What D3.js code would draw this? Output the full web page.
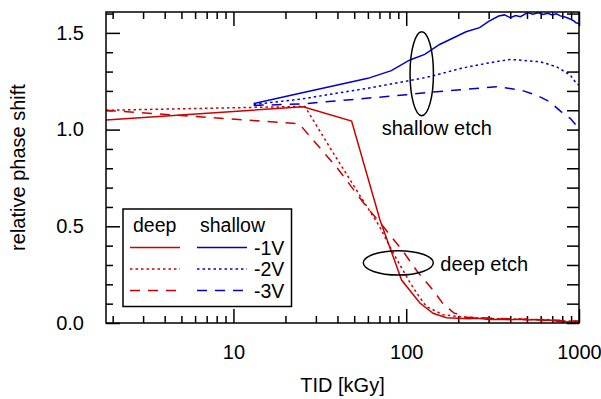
<!DOCTYPE html>
<html lang="en">
<head>
<meta charset="UTF-8">
<title>relative phase shift vs TID</title>
<style>
	body { margin: 0; background: #fff; }
	text { font-family: "Liberation Sans", Arial, sans-serif; fill: #000; }
</style>
<script src="https://cdn.jsdelivr.net/npm/d3@7"></script>
</head>
<body>
<div id="chart"></div>
<script>
	// deep etch, -1V / -2V / -3V
	var deepDose1 = [1.83, 25.3, 48.3, 70.5, 94, 120, 143, 171, 199, 230, 260, 300, 350, 400, 450, 500, 560, 620, 680, 750, 820, 900, 1000];
	var deepShift1 = [1.05, 1.118, 1.044, 0.533, 0.222, 0.103, 0.05, 0.027, 0.024, 0.022, 0.025, 0.018, 0.02, 0.017, 0.019, 0.016, 0.018, 0.013, 0.015, 0.009, 0.007, 0.005, 0.005];
	var deepDose2 = [1.83, 25.9, 36, 56, 70, 82, 92, 105, 118, 131, 164, 204, 240, 280, 330, 400, 470, 550, 640, 740, 850, 1000];
	var deepShift2 = [1.10, 1.12, 0.91, 0.636, 0.50, 0.38, 0.30, 0.21, 0.14, 0.085, 0.042, 0.033, 0.028, 0.026, 0.022, 0.02, 0.021, 0.017, 0.018, 0.014, 0.01, 0.008];
	var deepDose3 = [1.83, 24, 40, 59, 75, 96, 115, 143, 163, 190, 204, 215, 260, 320, 390, 460, 540, 630, 720, 820, 1000];
	var deepShift3 = [1.10, 1.03, 0.80, 0.60, 0.49, 0.37, 0.27, 0.17, 0.10, 0.05, 0.045, 0.03, 0.028, 0.024, 0.022, 0.02, 0.019, 0.016, 0.015, 0.012, 0.01];

	// shallow etch, -1V / -2V / -3V
	var shallowDose1 = [13.1, 24.3, 60, 82, 105, 128, 156, 222, 266, 300, 343, 370, 400, 430, 458, 505, 540, 580, 620, 660, 700, 740, 780, 820, 860, 890, 930, 960, 1000];
	var shallowShift1 = [1.135, 1.188, 1.265, 1.305, 1.36, 1.389, 1.44, 1.506, 1.527, 1.56, 1.587, 1.593, 1.579, 1.59, 1.584, 1.605, 1.597, 1.604, 1.595, 1.601, 1.593, 1.599, 1.588, 1.584, 1.577, 1.571, 1.563, 1.552, 1.548];
	var shallowDose2 = [13.1, 24.3, 59, 100, 137, 209, 292, 400, 545, 595, 740, 890, 965, 1000];
	var shallowShift2 = [1.13, 1.157, 1.213, 1.25, 1.274, 1.317, 1.343, 1.363, 1.353, 1.351, 1.325, 1.282, 1.239, 1.23];
	var shallowDose3 = [13.1, 24.3, 59, 100, 137, 222, 333, 458, 565, 675, 808, 890, 1000];
	var shallowShift3 = [1.125, 1.132, 1.162, 1.18, 1.193, 1.208, 1.222, 1.205, 1.179, 1.144, 1.084, 1.058, 1.005];

	var bias = ["-1V", "-2V", "-3V"];
	var dashes = [null, "2.5,3", "10,8"];

	var xMajor = [10, 100, 1000];
	var xMinor = [2, 3, 4, 5, 6, 7, 8, 9, 20, 30, 40, 50, 60, 70, 80, 90, 200, 300, 400, 500, 600, 700, 800, 900];
	var yMajor = [0, 0.5, 1.0, 1.5];
	var yMinor = [0.1, 0.2, 0.3, 0.4, 0.6, 0.7, 0.8, 0.9, 1.1, 1.2, 1.3, 1.4, 1.6];

	var red = "#cc0000", blue = "#0000cc";

	var w = 601, h = 399;
	var margin = {top: 12, right: 22, bottom: 76, left: 106},
		width = w - margin.left - margin.right,
		height = h - margin.top - margin.bottom;

	var svg = d3.select("#chart").append("svg")
		.attr("width", w)
		.attr("height", h);
	var g = svg.append("g")
		.attr("transform", `translate(${margin.left},${margin.top})`);

	var x = d3.scaleLog().domain([1.83, 1000]).range([0, width]);
	var y = d3.scaleLinear().domain([0, 1.608]).range([height, 0]);

	g.append("clipPath").attr("id", "plotclip")
		.append("rect").attr("width", width).attr("height", height);

	// ticks, all pointing inward
	function ticks(axis, vals, size) {
		return axis.tickValues(vals).tickSize(size).tickFormat("");
	}
	var fmt = d3.format(".1f");
	g.append("g").attr("transform", `translate(0,${height})`)
		.call(ticks(d3.axisBottom(x), xMinor, -7));
	g.append("g").attr("transform", `translate(0,${height})`)
		.call(d3.axisBottom(x).tickValues(xMajor).tickSize(-14).tickPadding(22).tickFormat(d3.format("d")));
	g.append("g").call(ticks(d3.axisTop(x), xMinor, -7));
	g.append("g").call(ticks(d3.axisTop(x), xMajor, -14));
	g.append("g").call(ticks(d3.axisLeft(y), yMinor, -7));
	g.append("g").call(d3.axisLeft(y).tickValues(yMajor).tickSize(-14).tickPadding(22).tickFormat(fmt));
	g.append("g").attr("transform", `translate(${width},0)`)
		.call(ticks(d3.axisRight(y), yMinor.concat(yMajor), -12));

	g.selectAll(".domain").remove();
	g.selectAll(".tick line").attr("stroke", "#000").attr("stroke-width", 1.5);
	g.selectAll(".tick text")
		.attr("font-size", "20px")
		.attr("font-family", "'Liberation Sans', Arial, sans-serif")
		.attr("fill", "#000");

	// series
	var line = d3.line().x(d => x(d[0])).y(d => y(d[1]));
	var series = [
		{dose: deepDose1, shift: deepShift1, color: red, dash: dashes[0]},
		{dose: deepDose2, shift: deepShift2, color: red, dash: dashes[1]},
		{dose: deepDose3, shift: deepShift3, color: red, dash: dashes[2]},
		{dose: shallowDose1, shift: shallowShift1, color: blue, dash: dashes[0]},
		{dose: shallowDose2, shift: shallowShift2, color: blue, dash: dashes[1]},
		{dose: shallowDose3, shift: shallowShift3, color: blue, dash: dashes[2]}
	];
	g.append("g").attr("clip-path", "url(#plotclip)")
		.selectAll("path")
		.data(series)
		.enter()
		.append("path")
		.attr("d", s => line(s.dose.map((d, i) => [d, s.shift[i]])))
		.attr("fill", "none")
		.attr("stroke", s => s.color)
		.attr("stroke-width", 1.5)
		.attr("stroke-dasharray", s => s.dash);

	// frame
	g.append("rect")
		.attr("width", width).attr("height", height)
		.attr("fill", "none").attr("stroke", "#000").attr("stroke-width", 1.5);

	// annotations
	g.append("ellipse")
		.attr("cx", x(123)).attr("cy", y(1.289))
		.attr("rx", 11.7).attr("ry", 42)
		.attr("fill", "none").attr("stroke", "#000").attr("stroke-width", 1.5);
	g.append("text")
		.attr("x", x(123) - 40).attr("y", y(1.289) + 61)
		.attr("font-size", "20px")
		.text("shallow etch");
	g.append("ellipse")
		.attr("cx", x(90)).attr("cy", y(0.311))
		.attr("rx", 35).attr("ry", 12.2)
		.attr("fill", "none").attr("stroke", "#000").attr("stroke-width", 1.5);
	g.append("text")
		.attr("x", x(90) + 42).attr("y", y(0.311) + 8)
		.attr("font-size", "20px")
		.text("deep etch");

	// legend
	var legend = g.append("g").attr("transform", "translate(17,197)");
	legend.append("rect")
		.attr("width", 168.5).attr("height", 97.5)
		.attr("fill", "#fff").attr("stroke", "#000").attr("stroke-width", 1.5);
	legend.append("text").attr("x", 10).attr("y", 23).attr("font-size", "19.5px").text("deep");
	legend.append("text").attr("x", 77).attr("y", 23).attr("font-size", "19.5px").text("shallow");
	var rows = legend.selectAll(".row")
		.data(bias)
		.enter()
		.append("g")
		.attr("class", "row")
		.attr("transform", (d, i) => `translate(0,${38.5 + i * 21.5})`);
	rows.append("line")
		.attr("x1", 7).attr("x2", 57)
		.attr("stroke", red).attr("stroke-width", 1.5)
		.attr("stroke-dasharray", (d, i) => dashes[i]);
	rows.append("line")
		.attr("x1", 74).attr("x2", 124)
		.attr("stroke", blue).attr("stroke-width", 1.5)
		.attr("stroke-dasharray", (d, i) => dashes[i]);
	rows.append("text")
		.attr("x", 131).attr("y", 7)
		.attr("font-size", "19.5px")
		.text(d => d);

	// axis titles
	svg.append("text")
		.attr("transform", `translate(25,${margin.top + height / 2}) rotate(-90)`)
		.attr("text-anchor", "middle")
		.attr("font-size", "20px")
		.text("relative phase shift");
	svg.append("text")
		.attr("x", margin.left + width / 2)
		.attr("y", 392)
		.attr("text-anchor", "middle")
		.attr("font-size", "20px")
		.text("TID [kGy]");
</script>
</body>
</html>
